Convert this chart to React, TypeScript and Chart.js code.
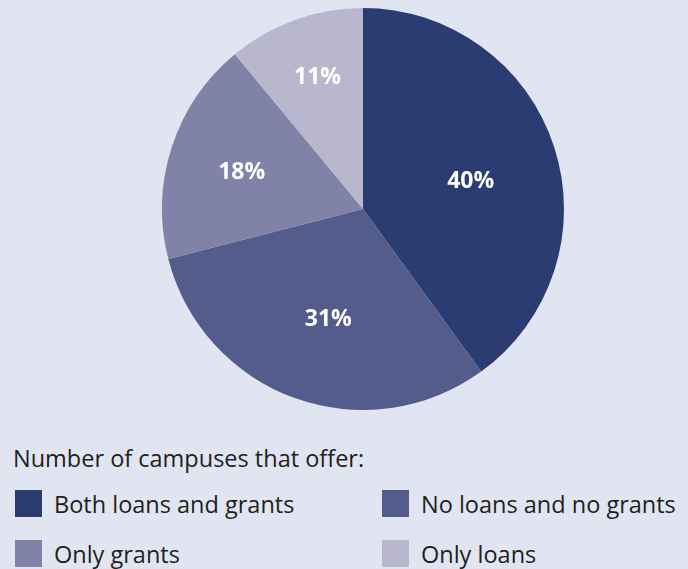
import React, { useEffect, useRef } from "react";
import { Chart, registerables } from "chart.js";

Chart.register(...registerables);

const categories = [
  "Both loans and grants",
  "No loans and no grants",
  "Only grants",
  "Only loans",
];
const values = [40, 31, 18, 11];
const valueLabels = ["40%", "31%", "18%", "11%"];
const colors = ["#2b3c72", "#545c8b", "#8083a7", "#b8b7ce"];
const legendTitle = "Number of campuses that offer:";

const BG = "#e1e5f1";
const FONT = "'Open Sans', 'Noto Sans', sans-serif";
const TEXT = "#231f20";

// label placement: fraction of radius and angular nudge (degrees)
const labelRadiusFrac = [0.554, 0.572, 0.631, 0.695];
const labelAngleNudge = [3.2, -2.2, -1, 0.8];

const sliceLabels = {
  id: "sliceLabels",
  afterDatasetsDraw(chart: any) {
    const meta = chart.getDatasetMeta(0);
    const ctx = chart.ctx;
    ctx.save();
    ctx.fillStyle = "#ffffff";
    ctx.font = `bold 23px ${FONT}`;
    ctx.textAlign = "center";
    ctx.textBaseline = "middle";
    meta.data.forEach((arc: any, i: number) => {
      const p = arc.getProps(["x", "y", "startAngle", "endAngle", "outerRadius"], true);
      const mid = (p.startAngle + p.endAngle) / 2 + (labelAngleNudge[i] * Math.PI) / 180;
      const r = p.outerRadius * labelRadiusFrac[i];
      ctx.fillText(valueLabels[i], p.x + Math.cos(mid) * r, p.y + Math.sin(mid) * r + 1);
    });
    ctx.restore();
  },
};

export default function App() {
  const ref = useRef<HTMLCanvasElement | null>(null);

  useEffect(() => {
    document.body.style.margin = "0";
    document.body.style.background = BG;
    if (!ref.current) return;
    const chart = new Chart(ref.current, {
      type: "pie",
      data: {
        labels: categories,
        datasets: [
          {
            data: values,
            backgroundColor: colors,
            borderWidth: 0,
            hoverOffset: 0,
          },
        ],
      },
      options: {
        animation: false,
        responsive: false,
        maintainAspectRatio: false,
        layout: { padding: { left: 162, right: 124, top: 8, bottom: 10 } },
        plugins: {
          legend: { display: false },
          tooltip: { enabled: false },
        },
      },
      plugins: [sliceLabels],
    });
    return () => chart.destroy();
  }, []);

  const boxPos = [
    { x: 15, y: 490 },
    { x: 382, y: 490 },
    { x: 15, y: 540 },
    { x: 382, y: 540 },
  ];

  return (
    <div
      style={{
        position: "fixed",
        left: 0,
        top: 0,
        width: 688,
        height: 569,
        background: BG,
        overflow: "hidden",
        fontFamily: FONT,
        color: TEXT,
      }}
    >
      <canvas
        ref={ref}
        width={688}
        height={420}
        style={{ position: "absolute", left: 0, top: 0, width: 688, height: 420 }}
      />
      <div
        style={{
          position: "absolute",
          left: 13,
          top: 444,
          fontSize: 23.5,
          lineHeight: "28px",
          whiteSpace: "nowrap",
        }}
      >
        {legendTitle}
      </div>
      {categories.map((c, i) => (
        <React.Fragment key={c}>
          <div
            style={{
              position: "absolute",
              left: boxPos[i].x,
              top: boxPos[i].y,
              width: 27,
              height: 27,
              background: colors[i],
            }}
          />
          <div
            style={{
              position: "absolute",
              left: boxPos[i].x + 39,
              top: boxPos[i].y,
              fontSize: 23.5,
              lineHeight: "28px",
              whiteSpace: "nowrap",
            }}
          >
            {c}
          </div>
        </React.Fragment>
      ))}
    </div>
  );
}
